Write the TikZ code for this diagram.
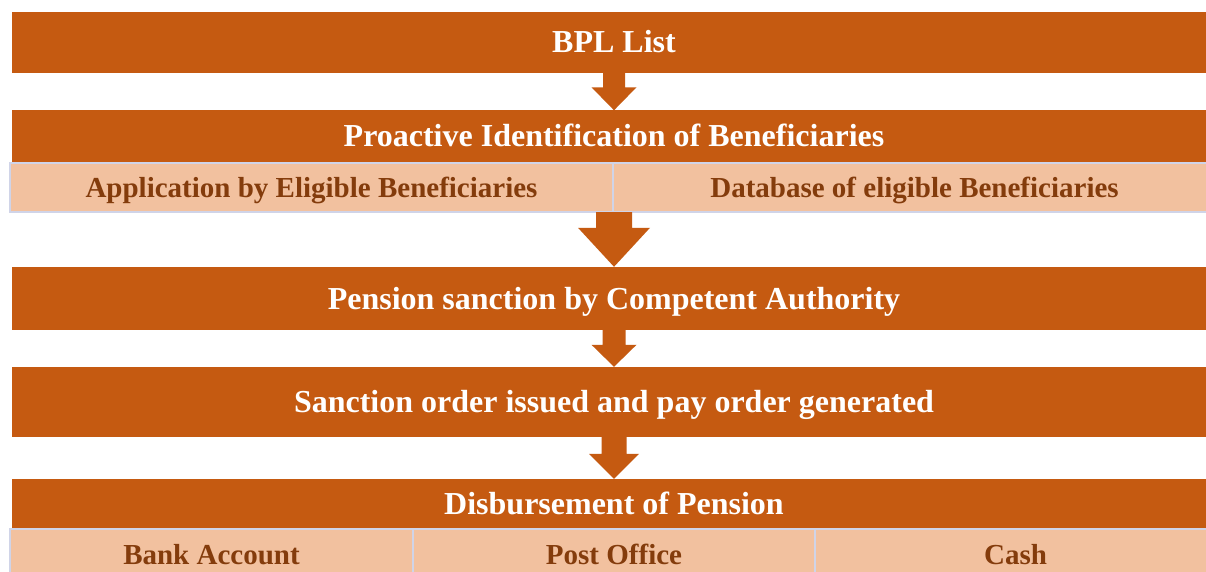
\documentclass[tikz,border=0pt]{standalone}
\usepackage{fontspec}
\setmainfont{Liberation Serif}
\usetikzlibrary{calc}
\definecolor{dorange}{HTML}{C55A11}
\definecolor{lorange}{HTML}{F2C19F}
\definecolor{dbrown}{HTML}{843C0C}
\definecolor{cellline}{HTML}{D0D4E8}
\tikzset{
  headbox/.style={fill=dorange, text=white, font=\bfseries\fontsize{32}{36}\selectfont, inner sep=0pt, minimum width=1204pt, text height=21pt, text depth=0pt},
  cellbox/.style={fill=lorange, draw=cellline, line width=1.5pt, text=dbrown, font=\bfseries\fontsize{29}{33}\selectfont, inner sep=0pt, text height=19pt, text depth=0pt},
  blockarrow/.style={fill=dorange}
}
\newcommand\blockarr[5]{% from node, to node, shaft half width, head half width, head length
  \fill[blockarrow] let \p1=(#1.south), \p2=(#2.north) in
    (\x1-#3pt,\y1) -- (\x1+#3pt,\y1) -- (\x1+#3pt,\y2+#5pt) -- (\x1+#4pt,\y2+#5pt)
    -- (\x2,\y2) -- (\x1-#4pt,\y2+#5pt) -- (\x1-#3pt,\y2+#5pt) -- cycle;
}
\begin{document}
\begin{tikzpicture}[x=1pt,y=-1pt]
\useasboundingbox (0,0) rectangle (1206,572);
\clip (0,0) rectangle (1206,572);
\fill[white] (0,0) rectangle (1206,572);

\node[headbox, minimum height=61pt] (bpl) at (614,42.5) {BPL List};
\node[headbox, minimum height=52pt] (pro) at (614,136.5) {Proactive Identification of Beneficiaries};
\node[cellbox, minimum width=603pt, minimum height=49pt] (app) at (311.5,187.5) {Application by Eligible Beneficiaries};
\node[cellbox, minimum width=603pt, minimum height=49pt] (dbase) at (914.5,187.5) {Database of eligible Beneficiaries};
\node[headbox, minimum height=63pt] (pen) at (614,298.5) {Pension sanction by Competent Authority};
\node[headbox, minimum height=70pt] (sanc) at (614,402) {Sanction order issued and pay order generated};
\node[headbox, minimum height=50pt] (disb) at (614,504) {Disbursement of Pension};
\node[cellbox, minimum width=403pt, minimum height=52pt] (bank) at (211.5,555) {Bank Account};
\node[cellbox, minimum width=402pt, minimum height=52pt] (post) at (614,555) {Post Office};
\node[cellbox, minimum width=401pt, minimum height=52pt] (cash) at (1015.5,555) {Cash};

\node[inner sep=0pt, minimum size=0pt] (rowbottom) at (614,212) {};

\blockarr{bpl}{pro}{11}{22.5}{23}
\blockarr{rowbottom}{pen}{18}{36}{39}
\blockarr{pen}{sanc}{11.5}{22.5}{22}
\blockarr{sanc}{disb}{12.5}{25}{25}
\end{tikzpicture}
\end{document}
